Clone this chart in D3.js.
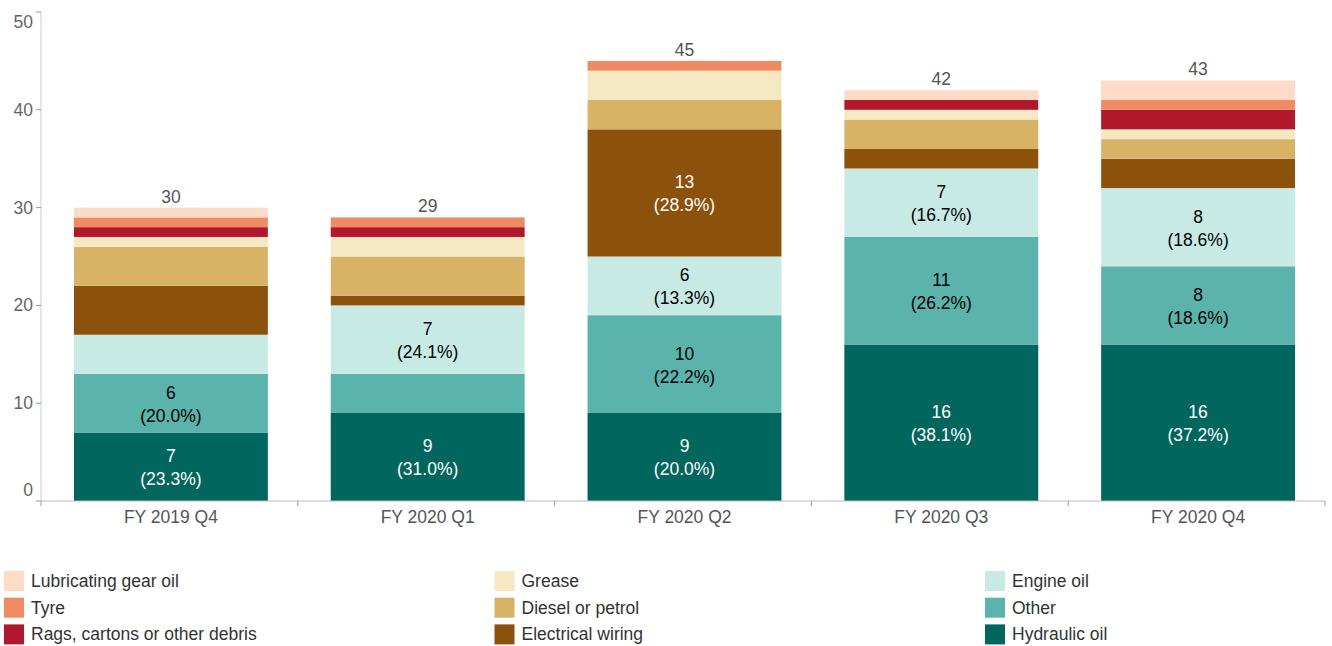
<!DOCTYPE html>
<html>
<head>
<meta charset="utf-8">
<script src="https://cdn.jsdelivr.net/npm/d3@7"></script>
<style>
  html, body { margin: 0; padding: 0; background: #fff; }
  svg { display: block; font-family: "Liberation Sans", Arial, sans-serif; }
</style>
</head>
<body>
<svg id="chart" width="1332" height="646"></svg>
<script>
// Quarters on the x axis
const categories = ["FY 2019 Q4", "FY 2020 Q1", "FY 2020 Q2", "FY 2020 Q3", "FY 2020 Q4"];

// Incident counts per cause, one array per cause (stacked bottom to top)
const hydraulicOil     = [7, 9, 9, 16, 16];
const other            = [6, 4, 10, 11, 8];
const engineOil        = [4, 7, 6, 7, 8];
const electricalWiring = [5, 1, 13, 2, 3];
const dieselOrPetrol   = [4, 4, 3, 3, 2];
const grease           = [1, 2, 3, 1, 1];
const ragsCartons      = [1, 1, 0, 1, 2];
const tyre             = [1, 1, 1, 0, 1];
const lubricatingOil   = [1, 0, 0, 1, 2];

const yTicks = [0, 10, 20, 30, 40, 50];

const seriesNames = [
  "Hydraulic oil", "Other", "Engine oil", "Electrical wiring", "Diesel or petrol",
  "Grease", "Rags, cartons or other debris", "Tyre", "Lubricating gear oil"
];
const seriesValues = [
  hydraulicOil, other, engineOil, electricalWiring, dieselOrPetrol,
  grease, ragsCartons, tyre, lubricatingOil
];
const seriesColors = [
  "#01665e", "#5ab4ac", "#c7eae5", "#8c510a", "#d8b365",
  "#f6e8c3", "#b2182b", "#ef8a62", "#fddbc7"
];

// Legend is laid out in columns, top of stack first
const legendOrder = [
  "Lubricating gear oil", "Tyre", "Rags, cartons or other debris",
  "Grease", "Diesel or petrol", "Electrical wiring",
  "Engine oil", "Other", "Hydraulic oil"
];

const minLabelValue = 6;

// Build a row table for d3.stack
const rows = categories.map((c, i) => {
  const r = { category: c };
  seriesNames.forEach((s, k) => { r[s] = seriesValues[k][i]; });
  r.total = d3.sum(seriesValues, arr => arr[i]);
  return r;
});

const svg = d3.select("#chart");
const fontSize = 17.5;
const plot = { left: 41, right: 1325, top: 12, bottom: 501 };

const x = d3.scaleBand()
  .domain(categories)
  .range([plot.left + 1.5, plot.right + 1.5])
  .paddingInner(0.245)
  .paddingOuter(0.1225);

const y = d3.scaleLinear().domain([0, 50]).range([plot.bottom, plot.top]);

const color = d3.scaleOrdinal().domain(seriesNames).range(seriesColors);

const stacked = d3.stack().keys(seriesNames)(rows);

// Bars
const layers = svg.append("g").selectAll("g")
  .data(stacked)
  .join("g")
  .attr("fill", d => color(d.key));

layers.selectAll("rect")
  .data(d => d.filter(p => p[1] - p[0] > 0))
  .join("rect")
  .attr("x", p => x(p.data.category))
  .attr("width", x.bandwidth())
  .attr("y", p => y(p[1]))
  .attr("height", p => y(p[0]) - y(p[1]));

// Segment labels: value and share of the quarter's total
const pct = d3.format(".1%");
const segLabels = svg.append("g").attr("font-size", fontSize).attr("text-anchor", "middle");
stacked.forEach(layer => {
  const c = color(layer.key);
  const txtColor = d3.hsl(c).l < 0.45 ? "#ffffff" : "#000000";
  layer.forEach(p => {
    const v = p[1] - p[0];
    if (v < minLabelValue) return;
    const cx = x(p.data.category) + x.bandwidth() / 2;
    const cy = (y(p[0]) + y(p[1])) / 2;
    const t = segLabels.append("text").attr("fill", txtColor);
    t.append("tspan").attr("x", cx).attr("y", cy - 4.5).text(v);
    t.append("tspan").attr("x", cx).attr("y", cy + 18.5).text("(" + pct(v / p.data.total) + ")");
  });
});

// Totals above each bar, on a white backing
const totals = svg.append("g");
rows.forEach(r => {
  const g = totals.append("g");
  const t = g.append("text")
    .attr("x", x(r.category) + x.bandwidth() / 2)
    .attr("y", y(r.total) - 5)
    .attr("text-anchor", "middle")
    .attr("font-size", fontSize)
    .attr("fill", "#555")
    .text(r.total);
  const bb = t.node().getBBox();
  g.insert("rect", "text")
    .attr("x", bb.x - 1).attr("y", bb.y)
    .attr("width", bb.width + 2).attr("height", bb.height)
    .attr("fill", "#fff");
});

// Y axis
const yAxis = svg.append("g");
yAxis.append("line")
  .attr("x1", plot.left).attr("x2", plot.left)
  .attr("y1", y(50)).attr("y2", y(0))
  .attr("stroke", "#ccc");
yTicks.forEach((v, i) => {
  yAxis.append("line")
    .attr("x1", plot.left - 5).attr("x2", plot.left)
    .attr("y1", y(v)).attr("y2", y(v))
    .attr("stroke", "#999");
  let dy = 6;
  if (i === 0) dy = -5;
  if (i === yTicks.length - 1) dy = 16;
  yAxis.append("text")
    .attr("x", plot.left - 8)
    .attr("y", y(v) + dy)
    .attr("text-anchor", "end")
    .attr("font-size", fontSize)
    .attr("fill", "#666")
    .text(v);
});

// X axis: domain line with ticks at band boundaries
const xAxis = svg.append("g");
xAxis.append("line")
  .attr("x1", plot.left).attr("x2", plot.right)
  .attr("y1", plot.bottom).attr("y2", plot.bottom)
  .attr("stroke", "#bbb");
const step = x.step();
d3.range(categories.length + 1).forEach(k => {
  const bx = plot.left + k * step;
  xAxis.append("line")
    .attr("x1", bx).attr("x2", bx)
    .attr("y1", plot.bottom).attr("y2", plot.bottom + 5)
    .attr("stroke", "#999");
});
categories.forEach(c => {
  xAxis.append("text")
    .attr("x", x(c) + x.bandwidth() / 2)
    .attr("y", plot.bottom + 22)
    .attr("text-anchor", "middle")
    .attr("font-size", fontSize)
    .attr("fill", "#555")
    .text(c);
});

// Legend: three columns of three
const legend = svg.append("g");
legendOrder.forEach((name, i) => {
  const col = Math.floor(i / 3), row = i % 3;
  const lx = 4 + col * 490.5;
  const ly = 571 + row * 26.7;
  legend.append("rect")
    .attr("x", lx).attr("y", ly)
    .attr("width", 20).attr("height", 20)
    .attr("fill", color(name));
  legend.append("text")
    .attr("x", lx + 27).attr("y", ly + 16)
    .attr("font-size", fontSize)
    .attr("fill", "#333")
    .text(name);
});
</script>
</body>
</html>
